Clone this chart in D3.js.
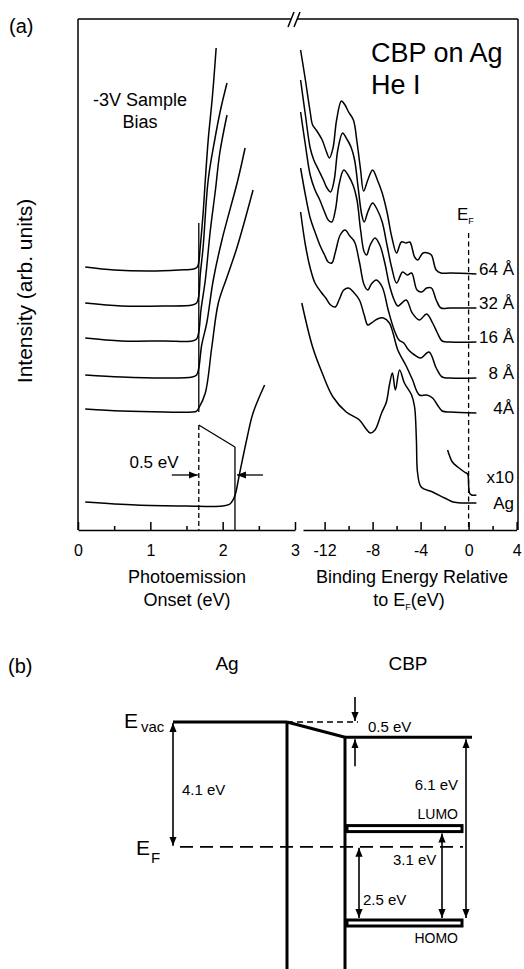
<!DOCTYPE html>
<html>
<head>
<meta charset="utf-8">
<script src="https://cdn.jsdelivr.net/npm/d3@7"></script>
<style>
  body { margin: 0; background: #fff; }
  text { font-family: "Liberation Sans", Arial, Helvetica, sans-serif; fill: #000; }
</style>
</head>
<body>
<script>
// ---- data: panel (a), left = photoemission onset (eV), intensity in arb. units
var onsetTicks = [0, 1, 2, 3];
var onsetMinor = [0.5, 1.5, 2.5];
var bindingTicks = [-12, -8, -4, 0, 4];
var bindingMinor = [-10, -6, -2, 2];
var thicknessLabels = ["64 Å", "32 Å", "16 Å", "8 Å", "4Å", "x10", "Ag"];

var onset64 = [[0.10,263],[0.5,260],[1.0,259],[1.4,260],[1.60,261],[1.65,263],[1.67,268],[1.69,283],[1.73,317],[1.76,350],[1.80,390],[1.86,435],[1.91,482]];
var onset32 = [[0.10,227],[0.6,224],[1.2,224],[1.58,225],[1.64,227],[1.67,234],[1.69,255],[1.73,283],[1.80,350],[1.89,390],[1.97,420],[2.06,447]];
var onset16 = [[0.10,192],[0.6,189],[1.2,189],[1.58,189],[1.64,191],[1.67,198],[1.70,220],[1.76,250],[1.83,300],[1.90,340],[1.96,377],[2.06,415]];
var onset8  = [[0.10,155],[0.6,153],[1.2,152],[1.58,153],[1.64,155],[1.67,162],[1.71,185],[1.78,207],[1.87,250],[1.99,290],[2.21,350],[2.31,382]];
var onset4  = [[0.10,121],[0.6,119],[1.2,118],[1.58,118],[1.64,119],[1.67,122],[1.76,137],[1.85,183],[1.94,227],[2.06,253],[2.20,283],[2.42,340]];
var onsetAg = [[0.10,28],[0.8,25],[1.5,24],[2.0,24],[2.10,26],[2.15,31],[2.18,37],[2.23,55],[2.34,93],[2.42,117],[2.58,145]];

// panel (a), right = binding energy relative to EF (eV)
var ups64 = [[-14.0,480],[-13.6,450],[-13.2,418],[-13.0,405],[-12.7,400],[-12.2,390],[-11.9,380],[-11.6,372],[-11.3,382],[-11.0,410],[-10.6,429],[-10.3,425],[-10.0,418],[-9.6,410],[-9.3,388],[-9.0,360],[-8.75,339],[-8.4,350],[-8.0,360],[-7.6,350],[-7.2,337],[-6.8,318],[-6.4,293],[-6.0,277],[-5.6,288],[-5.2,287],[-4.9,288],[-4.5,273],[-4.25,270],[-3.8,277],[-3.4,277],[-3.1,275],[-2.7,260],[-2.3,257],[-1.5,257],[0.65,256]];
var ups32 = [[-14.0,450],[-13.6,415],[-13.2,382],[-12.9,370],[-12.5,360],[-12.1,350],[-11.8,342],[-11.5,338],[-11.2,350],[-10.9,380],[-10.5,397],[-10.2,392],[-9.8,383],[-9.5,370],[-9.2,342],[-8.9,315],[-8.7,308],[-8.4,318],[-8.0,327],[-7.6,320],[-7.2,308],[-6.8,285],[-6.4,262],[-6.0,247],[-5.5,258],[-5.1,255],[-4.75,257],[-4.3,240],[-3.9,238],[-3.5,242],[-3.1,242],[-2.7,230],[-2.3,222],[-1.5,222],[0.65,222]];
var ups16 = [[-14.0,418],[-13.6,385],[-13.2,355],[-12.8,340],[-12.4,330],[-12.0,318],[-11.7,310],[-11.4,308],[-11.1,320],[-10.8,345],[-10.4,360],[-10.0,354],[-9.6,344],[-9.3,330],[-9.0,300],[-8.7,278],[-8.5,275],[-8.2,285],[-7.8,292],[-7.4,285],[-7.0,268],[-6.6,245],[-6.2,230],[-5.9,224],[-5.2,230],[-4.7,217],[-4.1,210],[-3.5,216],[-3.0,207],[-2.6,197],[-2.2,189],[-1.5,188],[0.65,188]];
var ups8  = [[-14.0,362],[-13.6,335],[-13.2,312],[-12.8,298],[-12.4,285],[-12.0,275],[-11.7,268],[-11.4,267],[-11.1,278],[-10.7,295],[-10.3,300],[-9.9,294],[-9.5,288],[-9.1,268],[-8.7,245],[-8.4,240],[-8.1,246],[-7.7,250],[-7.2,243],[-6.7,220],[-6.2,200],[-5.8,190],[-5.4,187],[-5.0,180],[-4.5,175],[-4.0,172],[-3.3,178],[-2.7,162],[-2.2,153],[-1.5,152],[0.65,152]];
var ups4  = [[-14.0,318],[-13.6,285],[-13.2,262],[-12.8,247],[-12.3,238],[-11.9,232],[-11.5,225],[-11.1,223],[-10.8,230],[-10.4,240],[-10.0,242],[-9.6,238],[-9.1,230],[-8.7,215],[-8.4,205],[-8.1,207],[-7.6,211],[-7.1,212],[-6.6,207],[-6.3,197],[-5.9,180],[-5.2,164],[-4.7,151],[-4.1,135],[-3.5,135],[-3.0,132],[-2.6,125],[-2.2,119],[-1.5,118],[0.65,117]];
var upsAgX10 = [[-1.75,80],[-1.35,68],[-0.9,63],[-0.35,58],[-0.08,56],[0.0,45],[0.08,37],[0.25,35],[0.65,35]];
var upsAg = [[-13.9,227],[-13.0,183],[-12.2,157],[-11.3,133],[-10.2,118],[-9.1,110],[-8.6,102],[-8.2,97],[-7.8,100],[-7.25,117],[-6.85,128],[-6.6,145],[-6.35,157],[-6.1,140],[-5.75,160],[-5.35,147],[-4.75,135],[-4.5,123],[-4.35,90],[-4.25,57],[-3.95,43],[-3.0,38],[-2.0,32],[-1.3,28],[-0.5,27],[0.65,27]];

var onsetFilm = 1.67;   // eV
var onsetAgMetal = 2.17; // eV

// ---- data: panel (b), energy levels relative to EF (eV)
var levelNames = ["Evac Ag", "Evac CBP", "EF", "LUMO", "HOMO"];
var levelEnergy = [4.1, 3.6, 0, 0.6, -2.5];
var gapLabels = ["4.1 eV", "0.5 eV", "6.1 eV", "3.1 eV", "2.5 eV"];

var svgWidth = 524;
var svgHeight = 969;

var svg = d3.select("body")
  .append("svg")
  .attr("width", svgWidth)
  .attr("height", svgHeight);

var defs = svg.append("defs");
defs.append("marker")
  .attr("id", "head")
  .attr("viewBox", "0 0 10 8")
  .attr("refX", 10)
  .attr("refY", 4)
  .attr("markerWidth", 9)
  .attr("markerHeight", 7.2)
  .attr("markerUnits", "userSpaceOnUse")
  .attr("orient", "auto-start-reverse")
  .append("path")
  .attr("d", "M0,0L10,4L0,8z")
  .attr("fill", "#000");

// ================= panel (a) =================
var xOnset = d3.scaleLinear().domain([0, 3]).range([78, 295]);
var xBind = d3.scaleLinear().domain([-13.8, 4]).range([303, 516.6]);
var yInt = d3.scaleLinear().domain([0, 511]).range([530, 19]);

var panelA = svg.append("g");

function styleAxis(g) {
  g.select(".domain").attr("stroke-width", 1.5);
  g.selectAll(".tick line").attr("stroke-width", 1.5);
  g.selectAll("text").attr("font-size", null).style("font-size", "16px")
    .style("font-family", "'Liberation Sans', Arial, sans-serif");
}

var plainNum = d => String(d);

var onsetAxis = panelA.append("g")
  .attr("transform", `translate(0, ${yInt(0)})`)
  .call(d3.axisBottom(xOnset).tickValues(onsetTicks).tickSize(-8).tickSizeOuter(0)
    .tickPadding(15).tickFormat(plainNum));
styleAxis(onsetAxis);

panelA.append("g")
  .attr("transform", `translate(0, ${yInt(0)})`)
  .call(d3.axisBottom(xOnset).tickValues(onsetMinor).tickSize(-4).tickFormat(""))
  .call(g => g.select(".domain").remove())
  .call(styleAxis);

var bindAxis = panelA.append("g")
  .attr("transform", `translate(0, ${yInt(0)})`)
  .call(d3.axisBottom(xBind).tickValues(bindingTicks).tickSize(-8).tickSizeOuter(0)
    .tickPadding(15).tickFormat(plainNum));
styleAxis(bindAxis);

panelA.append("g")
  .attr("transform", `translate(0, ${yInt(0)})`)
  .call(d3.axisBottom(xBind).tickValues(bindingMinor).tickSize(-4).tickFormat(""))
  .call(g => g.select(".domain").remove())
  .call(styleAxis);

// frame: left side, broken top, right side
var frame = panelA.append("g").attr("stroke", "#000").attr("stroke-width", 1.5).attr("fill", "none");
frame.append("line").attr("x1", 78).attr("x2", 78).attr("y1", yInt(511)).attr("y2", yInt(0));
frame.append("line").attr("x1", 78).attr("x2", 291).attr("y1", yInt(511)).attr("y2", yInt(511));
frame.append("line").attr("x1", 297).attr("x2", 518).attr("y1", yInt(511)).attr("y2", yInt(511));
frame.append("line").attr("x1", 518).attr("x2", 518).attr("y1", yInt(511)).attr("y2", yInt(0));
frame.append("line").attr("x1", 288).attr("x2", 294).attr("y1", 27).attr("y2", 12);
frame.append("line").attr("x1", 294).attr("x2", 300).attr("y1", 27).attr("y2", 12);

var onsetLine = d3.line()
  .x(d => xOnset(d[0]))
  .y(d => yInt(d[1]))
  .curve(d3.curveCatmullRom.alpha(0.5));

var bindLine = d3.line()
  .x(d => xBind(d[0]))
  .y(d => yInt(d[1]))
  .curve(d3.curveCatmullRom.alpha(0.5));

var onsetSeries = [onset64, onset32, onset16, onset8, onset4, onsetAg];
panelA.selectAll(".onset")
  .data(onsetSeries)
  .enter()
  .append("path")
  .attr("class", "onset")
  .attr("d", onsetLine)
  .attr("fill", "none")
  .attr("stroke", "#000")
  .attr("stroke-width", 1.5);

var upsSeries = [ups64, ups32, ups16, ups8, ups4, upsAgX10, upsAg];
panelA.selectAll(".ups")
  .data(upsSeries)
  .enter()
  .append("path")
  .attr("class", "ups")
  .attr("d", bindLine)
  .attr("fill", "none")
  .attr("stroke", "#000")
  .attr("stroke-width", 1.5);

// thickness labels at the right end of each spectrum
panelA.selectAll(".thick")
  .data(upsSeries)
  .enter()
  .append("text")
  .attr("class", "thick")
  .attr("x", 514)
  .attr("y", function(d, i) {
    var yEnd = yInt(d[d.length - 1][1]);
    if (i === 5) return yEnd - 12;
    if (i === 6) return yEnd + 6;
    return yEnd + 1;
  })
  .attr("text-anchor", "end")
  .style("font-size", "17px")
  .text((d, i) => thicknessLabels[i]);

// onset guides
var guides = panelA.append("g").attr("stroke", "#000").attr("fill", "none").attr("stroke-width", 1.3);
guides.append("line")
  .attr("x1", xOnset(onsetFilm)).attr("x2", xOnset(onsetFilm))
  .attr("y1", yInt(307)).attr("y2", yInt(118));
guides.append("line")
  .attr("x1", xOnset(onsetFilm)).attr("x2", xOnset(onsetFilm))
  .attr("y1", yInt(105)).attr("y2", yInt(0))
  .attr("stroke-dasharray", "5,3");
guides.append("line")
  .attr("x1", xOnset(onsetFilm)).attr("x2", xOnset(onsetAgMetal))
  .attr("y1", yInt(105)).attr("y2", yInt(83));
guides.append("line")
  .attr("x1", xOnset(onsetAgMetal)).attr("x2", xOnset(onsetAgMetal))
  .attr("y1", yInt(83)).attr("y2", yInt(0));

// EF marker in the right half
guides.append("line")
  .attr("x1", xBind(0)).attr("x2", xBind(0))
  .attr("y1", 233).attr("y2", yInt(0))
  .attr("stroke-dasharray", "5,3.5");

// 0.5 eV arrows
var yArrow = yInt(55);
guides.append("line")
  .attr("x1", xOnset(onsetFilm) - 27).attr("x2", xOnset(onsetFilm) - 1)
  .attr("y1", yArrow).attr("y2", yArrow)
  .attr("marker-end", "url(#head)");
guides.append("line")
  .attr("x1", xOnset(onsetAgMetal) + 28).attr("x2", xOnset(onsetAgMetal) + 2)
  .attr("y1", yArrow).attr("y2", yArrow)
  .attr("marker-end", "url(#head)");

panelA.append("text").attr("x", 154).attr("y", 468).attr("text-anchor", "middle")
  .style("font-size", "17px").text("0.5 eV");

// titles and notes
panelA.append("text").attr("x", 9).attr("y", 33).style("font-size", "20px").text("(a)");
panelA.append("text").attr("x", 371).attr("y", 62).style("font-size", "27px").text("CBP on Ag");
panelA.append("text").attr("x", 371).attr("y", 94).style("font-size", "27px").text("He I");
panelA.append("text").attr("x", 140).attr("y", 106).attr("text-anchor", "middle")
  .style("font-size", "18px").text("-3V Sample");
panelA.append("text").attr("x", 140).attr("y", 128).attr("text-anchor", "middle")
  .style("font-size", "18px").text("Bias");

var efA = panelA.append("text").attr("x", 457).attr("y", 220).style("font-size", "17px");
efA.append("tspan").text("E");
efA.append("tspan").attr("dy", 4).style("font-size", "9px").text("F");

panelA.append("text")
  .attr("transform", "translate(32, 291) rotate(-90)")
  .attr("text-anchor", "middle")
  .style("font-size", "21px")
  .text("Intensity (arb. units)");

panelA.append("text").attr("x", 187).attr("y", 583).attr("text-anchor", "middle")
  .style("font-size", "18px").text("Photoemission");
panelA.append("text").attr("x", 187).attr("y", 606).attr("text-anchor", "middle")
  .style("font-size", "18px").text("Onset (eV)");
panelA.append("text").attr("x", 412).attr("y", 583).attr("text-anchor", "middle")
  .style("font-size", "18px").text("Binding Energy Relative");
var toEf = panelA.append("text").attr("x", 409).attr("y", 606).attr("text-anchor", "middle")
  .style("font-size", "18px");
toEf.append("tspan").text("to E");
toEf.append("tspan").attr("dy", 4).style("font-size", "9px").text("F");
toEf.append("tspan").attr("dy", -4).text("(eV)");

// ================= panel (b) =================
var yEnergy = d3.scaleLinear().domain([-2.5, 4.1]).range([923, 722]);
var eVacAg = levelEnergy[0], eVacCbp = levelEnergy[1], eF = levelEnergy[2],
    eLumo = levelEnergy[3], eHomo = levelEnergy[4];

var panelB = svg.append("g");
var xVacStart = 173, xInterface = 287, xCbp = 345, xRightEnd = 472;

var thick = panelB.append("g").attr("stroke", "#000").attr("stroke-width", 3).attr("fill", "none");
thick.append("line").attr("x1", xVacStart).attr("x2", xInterface)
  .attr("y1", yEnergy(eVacAg)).attr("y2", yEnergy(eVacAg));
thick.append("line").attr("x1", xInterface).attr("x2", xInterface)
  .attr("y1", yEnergy(eVacAg) - 1).attr("y2", svgHeight);
thick.append("line").attr("x1", xInterface).attr("x2", xCbp)
  .attr("y1", yEnergy(eVacAg)).attr("y2", yEnergy(eVacCbp));
thick.append("line").attr("x1", xCbp).attr("x2", xRightEnd)
  .attr("y1", yEnergy(eVacCbp)).attr("y2", yEnergy(eVacCbp));
thick.append("line").attr("x1", xCbp).attr("x2", xCbp)
  .attr("y1", yEnergy(eVacCbp) - 1).attr("y2", svgHeight);

// LUMO / HOMO bars
panelB.selectAll(".orbital")
  .data([eLumo, eHomo])
  .enter()
  .append("rect")
  .attr("class", "orbital")
  .attr("x", xCbp + 2)
  .attr("y", d => yEnergy(d) - 3)
  .attr("width", 115)
  .attr("height", 6)
  .attr("fill", "#fff")
  .attr("stroke", "#000")
  .attr("stroke-width", 3);

var thin = panelB.append("g").attr("stroke", "#000").attr("stroke-width", 1.4).attr("fill", "none");
thin.append("line").attr("x1", xInterface).attr("x2", 358)
  .attr("y1", yEnergy(eVacAg)).attr("y2", yEnergy(eVacAg))
  .attr("stroke-dasharray", "6,4");
thin.append("line").attr("x1", 180).attr("x2", 463)
  .attr("y1", yEnergy(eF)).attr("y2", yEnergy(eF))
  .attr("stroke-dasharray", "13,7").attr("stroke-width", 1.6);

function arrow(x, y1, y2, both) {
  var a = thin.append("line").attr("x1", x).attr("x2", x).attr("y1", y1).attr("y2", y2)
    .attr("stroke-width", 1.6)
    .attr("marker-end", "url(#head)");
  if (both) a.attr("marker-start", "url(#head)");
}
arrow(xVacStart, yEnergy(eVacAg) + 1, yEnergy(eF) - 1, true);
arrow(355, yEnergy(eVacAg) - 25, yEnergy(eVacAg) - 1, false);
arrow(355, yEnergy(eVacCbp) + 29, yEnergy(eVacCbp) + 2, false);
arrow(466, yEnergy(eVacCbp) + 2, yEnergy(eHomo) - 5, true);
arrow(442, yEnergy(eLumo) + 5, yEnergy(eHomo) - 5, true);
arrow(359, yEnergy(eF) + 1, yEnergy(eHomo) - 5, true);

panelB.append("text").attr("x", 8).attr("y", 673).style("font-size", "20px").text("(b)");
panelB.append("text").attr("x", 227).attr("y", 670).attr("text-anchor", "middle")
  .style("font-size", "19px").text("Ag");
panelB.append("text").attr("x", 408).attr("y", 670).attr("text-anchor", "middle")
  .style("font-size", "19px").text("CBP");

var evacText = panelB.append("text").attr("x", 124).attr("y", yEnergy(eVacAg) + 6)
  .style("font-size", "21px");
evacText.append("tspan").text("E");
evacText.append("tspan").attr("dx", 3).attr("dy", 4).style("font-size", "15px").text("vac");

var efText = panelB.append("text").attr("x", 136).attr("y", yEnergy(eF) + 8)
  .style("font-size", "21px");
efText.append("tspan").text("E");
efText.append("tspan").attr("dx", 1).attr("dy", 8).style("font-size", "15px").text("F");

panelB.append("text").attr("x", 182).attr("y", 795).style("font-size", "15px").text(gapLabels[0]);
panelB.append("text").attr("x", 368).attr("y", yEnergy(eVacAg) + 10).style("font-size", "15px").text(gapLabels[1]);
panelB.append("text").attr("x", 458).attr("y", 790).attr("text-anchor", "end").style("font-size", "15px").text(gapLabels[2]);
panelB.append("text").attr("x", 458).attr("y", yEnergy(eLumo) - 10).attr("text-anchor", "end").style("font-size", "14px").text(levelNames[3]);
panelB.append("text").attr("x", 393).attr("y", 865).style("font-size", "15px").text(gapLabels[3]);
panelB.append("text").attr("x", 363).attr("y", 905).style("font-size", "15px").text(gapLabels[4]);
panelB.append("text").attr("x", 458).attr("y", yEnergy(eHomo) + 20).attr("text-anchor", "end").style("font-size", "14px").text(levelNames[4]);
</script>
</body>
</html>
